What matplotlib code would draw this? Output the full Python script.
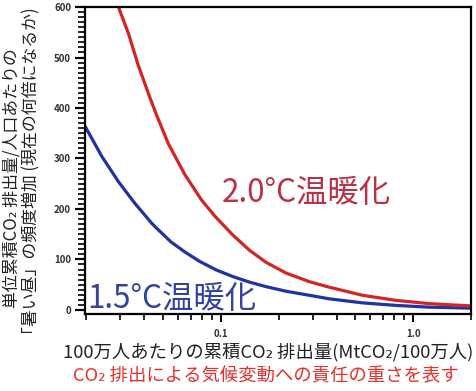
import numpy as np
import matplotlib
matplotlib.use("Agg")
import matplotlib.pyplot as plt
from matplotlib.ticker import MultipleLocator, FixedLocator, NullFormatter

plt.rcParams['font.family'] = ['Noto Sans CJK JP', 'DejaVu Sans']

# values (x: MtCO2 per million people, y: times today)
x_15 = [0.0197, 0.0241, 0.0294, 0.0358, 0.0437, 0.0464, 0.055, 0.065, 0.0778,
        0.095, 0.1158, 0.1413, 0.1725, 0.2188, 0.289, 0.367, 0.546, 0.813, 1.21, 2.0]
y_15 = [364, 304, 254, 211, 172, 162, 135, 115, 96,
        79, 66, 55, 46, 37, 29, 22, 14, 9, 5.5, 3.5]

x_20 = [0.0294, 0.0331, 0.0373, 0.0429, 0.0464, 0.0533, 0.0651, 0.0794, 0.0931,
        0.1158, 0.1413, 0.1725, 0.2188, 0.289, 0.367, 0.546, 0.813, 1.21, 2.0]
y_20 = [600, 548, 484, 420, 386, 330, 268, 218, 186,
        148, 118, 94, 73, 56, 45, 29, 19, 12.5, 8]

y_ticks = [0, 100, 200, 300, 400, 500, 600]
x_ticks = [0.1, 1.0]
x_ticklabels = ["0.1", "1.0"]

fig = plt.figure(figsize=(4.76, 3.91), dpi=100)
ax = fig.add_axes([0.1786, 0.197, 0.8109, 0.785])

ax.plot(x_15, y_15, color='#1f33a3', lw=2.3, solid_joinstyle='round')
ax.plot(x_20, y_20, color='#d42424', lw=2.3, solid_joinstyle='round')

ax.set_xscale('log')
ax.set_xlim(0.0197, 2.0)
ax.set_ylim(-8, 600)

ax.yaxis.set_major_locator(FixedLocator(y_ticks))
ax.yaxis.set_minor_locator(MultipleLocator(10))
ax.xaxis.set_major_locator(FixedLocator(x_ticks))
ax.set_xticklabels(x_ticklabels)
ax.xaxis.set_minor_locator(FixedLocator([0.02, 0.03, 0.04, 0.05, 0.06, 0.07, 0.08, 0.09,
                                          0.2, 0.3, 0.4, 0.5, 0.6, 0.7, 0.8, 0.9, 2.0]))
ax.xaxis.set_minor_formatter(NullFormatter())

for s in ax.spines.values():
    s.set_linewidth(1.6)
ax.tick_params(axis='y', which='major', direction='out', length=7, width=1.6,
               labelsize=7, pad=3, labelcolor='#333333')
ax.tick_params(axis='y', which='minor', direction='out', length=5, width=1.2)
ax.tick_params(axis='x', which='major', direction='out', length=6, width=1.4,
               labelsize=7, pad=5, labelcolor='#333333')
ax.tick_params(axis='x', which='minor', direction='out', length=4, width=1.2)
for lab in ax.get_yticklabels() + ax.get_xticklabels():
    lab.set_fontweight('bold')

fig.text(222 / 476, 1 - 193 / 391, "2.0°C温暖化", color='#bc3046', fontsize=22.6,
         ha='left', va='center')
fig.text(87 / 476, 1 - 299 / 391, "1.5°C温暖化", color='#3242a2', fontsize=22.6,
         ha='left', va='center')

fig.text(268 / 476, 1 - 352 / 391, "100万人あたりの累積CO₂ 排出量(MtCO₂/100万人)",
         fontsize=13.2, ha='center', va='center', color='#222222')
fig.text(266 / 476, 1 - 376 / 391, "CO₂ 排出による気候変動への責任の重さを表す",
         fontsize=13.2, ha='center', va='center', color='#e8302a')

fig.text(12 / 476, 1 - 178 / 391, "単位累積CO₂ 排出量/人口あたりの",
         fontsize=12.2, rotation=90, ha='center', va='center', color='#222222')
fig.text(31 / 476, 1 - 175 / 391, "「暑い昼」の頻度増加 (現在の何倍になるか)",
         fontsize=12.2, rotation=90, ha='center', va='center', color='#222222')

fig.savefig("out.png", dpi=100)
